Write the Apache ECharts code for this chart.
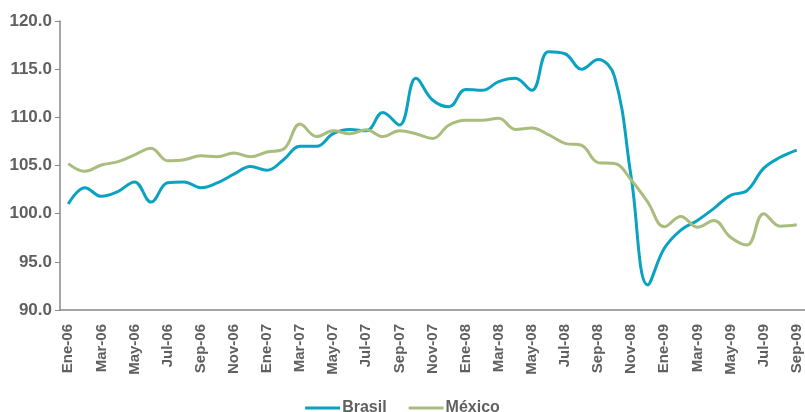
<!doctype html>
<html lang="es">
  <head>
    <meta charset="UTF-8" />
    <title>Brasil vs México</title>
    <script src="https://fastly.jsdelivr.net/npm/echarts@6/dist/echarts.min.js"></script>
    <style type="text/css">
      * {
        margin: 0;
        padding: 0;
      }
      html,
      body,
      #chart {
        width: 805px;
        height: 412px;
        overflow: hidden;
        background: #fff;
      }
    </style>
  </head>
  <body>
    <div id="chart"></div>
    <script>
      const monthNames = ['Ene', 'Feb', 'Mar', 'Abr', 'May', 'Jun', 'Jul', 'Ago', 'Sep', 'Oct', 'Nov', 'Dic'];
      const years = ['06', '07', '08', '09'];
      // Ene-06 .. Sep-09
      const months = [];
      years.forEach(function (y) {
        monthNames.forEach(function (m) {
          months.push(m + '-' + y);
        });
      });
      months.length = 45;

      const brasil = [
        101.0, 102.7, 101.8, 102.3, 103.3, 101.2, 103.2, 103.3, 102.7, 103.2, 104.1, 104.9,
        104.5, 105.6, 107.0, 107.0, 108.3, 108.75, 108.6, 110.5, 109.2, 114.05, 111.8, 111.1,
        112.9, 112.8, 113.7, 114.05, 112.8, 116.8, 116.6, 115.0, 116.0, 114.2, 103.8, 92.6,
        96.4, 98.3, 99.3, 100.55, 101.9, 102.4, 104.7, 105.85, 106.6,
      ];
      const mexico = [
        105.2, 104.4, 105.05, 105.4, 106.1, 106.8, 105.5, 105.6, 106.0, 105.9, 106.3, 105.9,
        106.4, 106.7, 109.3, 108.0, 108.6, 108.3, 108.7, 108.0, 108.6, 108.3, 107.8, 109.2,
        109.7, 109.7, 109.9, 108.75, 108.9, 108.2, 107.3, 107.1, 105.3, 105.2, 103.5, 101.2,
        98.65, 99.7, 98.6, 99.3, 97.55, 96.75, 100.0, 98.7, 98.85,
      ];

      const chart = echarts.init(document.getElementById('chart'));
      chart.setOption({
        animation: false,
        grid: { left: 60, right: -5, top: 21, bottom: 102 },
        legend: {
          top: 395,
          left: 'center',
          itemWidth: 35,
          itemHeight: 3,
          itemGap: 22,
          icon: 'rect',
          textStyle: {
            fontFamily: 'Liberation Sans',
            fontWeight: 'bold',
            fontSize: 16,
            color: '#606060',
            padding: [0, 0, 0, -3],
          },
          data: ['Brasil', 'México'],
        },
        xAxis: {
          type: 'category',
          data: months,
          boundaryGap: true,
          axisLine: { lineStyle: { color: '#888', width: 1.5 } },
          axisTick: { interval: 0, length: 5, lineStyle: { color: '#888' } },
          axisLabel: {
            interval: 1,
            rotate: 90,
            margin: 14,
            fontFamily: 'Liberation Sans',
            fontWeight: 'bold',
            fontSize: 15,
            color: '#606060',
          },
        },
        yAxis: {
          type: 'value',
          min: 90,
          max: 120,
          interval: 5,
          splitLine: { show: false },
          axisLine: { show: true, lineStyle: { color: '#888', width: 1.5 } },
          axisTick: { show: true, length: 5, lineStyle: { color: '#888' } },
          axisLabel: {
            formatter: function (v) {
              return v.toFixed(1);
            },
            margin: 8,
            fontFamily: 'Liberation Sans',
            fontWeight: 'bold',
            fontSize: 17,
            color: '#606060',
          },
        },
        series: [
          {
            name: 'Brasil',
            type: 'line',
            data: brasil,
            smooth: 0.4,
            showSymbol: false,
            itemStyle: { color: '#0ba2c2' },
            lineStyle: { width: 3, color: '#0ba2c2' },
          },
          {
            name: 'México',
            type: 'line',
            data: mexico,
            smooth: 0.4,
            showSymbol: false,
            itemStyle: { color: '#a9bd7e' },
            lineStyle: { width: 3, color: '#a9bd7e' },
          },
        ],
      });
    </script>
  </body>
</html>
